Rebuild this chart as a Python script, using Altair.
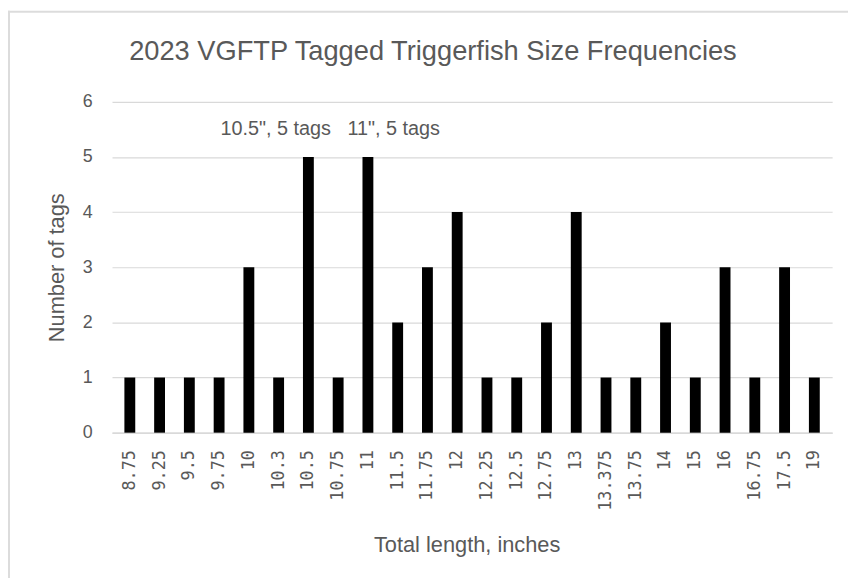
import altair as alt
import pandas as pd

title_text = ["2023 VGFTP Tagged Triggerfish Size Frequencies"]

lengths = ["8.75", "9.25", "9.5", "9.75", "10", "10.3", "10.5", "10.75", "11", "11.5",
           "11.75", "12", "12.25", "12.5", "12.75", "13", "13.375", "13.75", "14", "15",
           "16", "16.75", "17.5", "19"]
tags = [1, 1, 1, 1, 3, 1, 5, 1, 5, 2, 3, 4, 1, 1, 2, 4, 1, 1, 2, 1, 3, 1, 3, 1]

ann_lengths = ["10.5", "11"]
ann_texts = ['10.5", 5 tags', '11", 5 tags']
ann_level = [5.5, 5.5]

df = pd.DataFrame({"length": lengths, "tags": tags})
ann = pd.DataFrame({"length": ann_lengths, "text": ann_texts, "level": ann_level})
tdf = pd.DataFrame({"t": title_text})

W, H = 727, 334
PL, PT = 105, 92
GRAY = "#595959"

xscale = alt.Scale(domain=lengths, paddingInner=0.635, paddingOuter=0.416)
yscale = alt.Scale(domain=[0, 6])

bars = alt.Chart(df).mark_bar(color="black").encode(
    x=alt.X("length:N", scale=xscale, sort=lengths,
            axis=alt.Axis(title="Total length, inches", labelAngle=270,
                          labelFont="DejaVu Sans Mono", labelFontSize=17,
                          labelColor=GRAY, labelPadding=17, ticks=False,
                          domainColor="#d9d9d9", domainWidth=1.5,
                          titleFont="Liberation Sans", titleFontSize=22,
                          titleFontWeight="normal", titleColor=GRAY,
                          titlePadding=25, titleX=358)),
    y=alt.Y("tags:Q", scale=yscale,
            axis=alt.Axis(title="Number of tags", values=[0, 1, 2, 3, 4, 5, 6],
                          format="d",
                          labelFont="Liberation Sans", labelFontSize=18,
                          labelColor=GRAY, labelPadding=20, ticks=False,
                          domain=False, gridColor="#d9d9d9", gridWidth=1.2,
                          titleFont="Liberation Sans", titleFontSize=22,
                          titleFontWeight="normal", titleColor=GRAY,
                          titlePadding=14)),
)

ann1 = alt.Chart(ann).transform_filter(alt.datum.length == "10.5").mark_text(
    font="Liberation Sans", fontSize=20, color=GRAY, baseline="middle", dx=-33
).encode(x=alt.X("length:N", scale=xscale, sort=lengths),
         y=alt.Y("level:Q", scale=yscale), text="text:N")

ann2 = alt.Chart(ann).transform_filter(alt.datum.length == "11").mark_text(
    font="Liberation Sans", fontSize=20, color=GRAY, baseline="middle", dx=26
).encode(x=alt.X("length:N", scale=xscale, sort=lengths),
         y=alt.Y("level:Q", scale=yscale), text="text:N")

title = alt.Chart(tdf).mark_text(
    font="Liberation Sans", fontSize=27.5, color=GRAY, baseline="alphabetic",
    align="center"
).encode(x=alt.value(437 - 113), y=alt.value(-42), text="t:N")

frame_top = alt.Chart(tdf).mark_rule(color="#dcdcdc", strokeWidth=2).encode(
    x=alt.value(-PL), x2=alt.value(W + 40), y=alt.value(-PT + 1))
frame_left = alt.Chart(tdf).mark_rule(color="#dcdcdc", strokeWidth=2).encode(
    x=alt.value(-PL + 1), y=alt.value(-PT), y2=alt.value(H + 160))

chart = alt.layer(frame_top, frame_left, bars, ann1, ann2, title).properties(
    width=W, height=H,
    autosize=alt.AutoSizeParams(type="none"),
    padding={"left": PL, "top": PT, "right": 16, "bottom": 144},
    background="white",
).configure_view(stroke=None)

chart.save("out.html", embed_options={"renderer": "svg", "actions": False})
